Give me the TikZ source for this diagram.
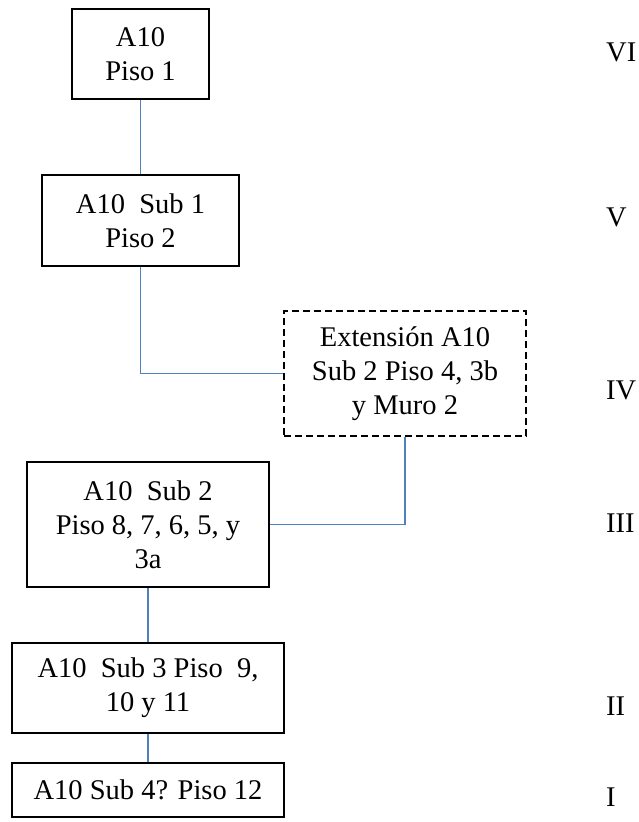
\documentclass[tikz,border=0pt]{standalone}
\usepackage{fontspec}
\setmainfont{Liberation Serif}
\definecolor{azul}{RGB}{79,129,189}
\begin{document}
\begin{tikzpicture}[x=1pt,y=-1pt,
    every node/.style={font=\fontsize{28.5}{34}\selectfont},
    caja/.style={draw, line width=1.7pt, align=center, inner sep=0pt},
    enlace/.style={draw=azul, line width=1.6pt},
    nivel/.style={anchor=west, inner sep=0pt}]
\useasboundingbox (0,0) rectangle (639,822);

% Piso 1
\node [caja,
    minimum width=137,
    minimum height=90] (p1) at (140.5,54) {A10\\Piso 1};

% Sub 1
\node [caja,
    minimum width=197,
    minimum height=91] (p2) at (140.5,220.5) {A10\ \ Sub 1\\Piso 2};

% Extension
\node [caja,
    dash pattern=on 7pt off 4pt,
    minimum width=242,
    minimum height=125] (ext) at (405,373.5) {Extensión A10\\Sub 2 Piso 4, 3b\\y Muro 2};

% Sub 2
\node [caja,
    minimum width=242,
    minimum height=125] (p3) at (148,524.5) {A10\ \ Sub 2\\Piso 8, 7, 6, 5, y\\3a};

% Sub 3
\node [caja,
    minimum width=272,
    minimum height=90] (p4) at (148,688) {A10\ \ Sub 3 Piso\ \ 9,\\10 y 11};

% Sub 4
\node [caja,
    minimum width=272,
    minimum height=54] (p5) at (148,790) {A10 Sub 4? Piso 12};

% Niveles
\node [nivel] (n6) at (606,52) {VI};
\node [nivel] (n5) at (606,217) {V};
\node [nivel] (n4) at (606,390) {IV};
\node [nivel] (n3) at (606,523) {III};
\node [nivel] (n2) at (606,706) {II};
\node [nivel] (n1) at (606,797) {I};

% Enlaces
\draw [enlace] (p1) -- (p2);
\draw [enlace] (p2.south) |- (ext.west);
\draw [enlace] (ext.south) |- (p3.east);
\draw [enlace] (p3) -- (p4);
\draw [enlace] (p4) -- (p5);

\end{tikzpicture}
\end{document}
